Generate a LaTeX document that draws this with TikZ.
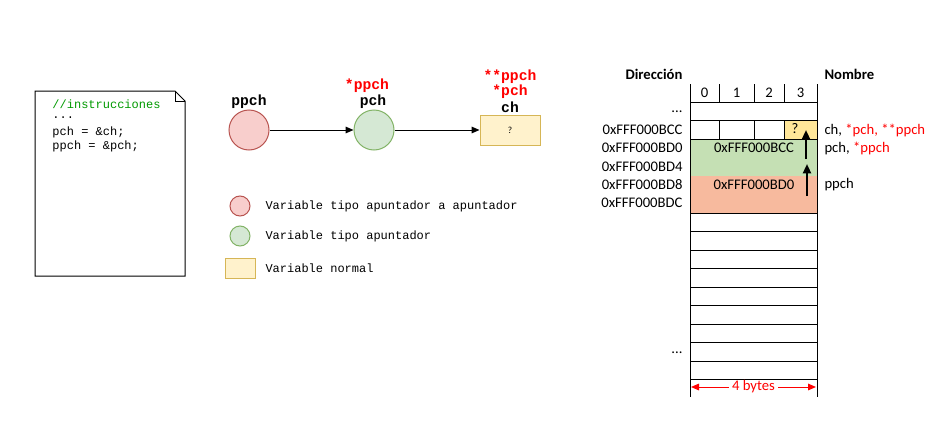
\documentclass[tikz,border=0pt]{standalone}
\usepackage{fontspec}
\setmainfont{Carlito}
\newfontfamily\codefont{Liberation Mono}
\usetikzlibrary{arrows.meta,positioning}

\definecolor{ptrptr}{HTML}{F8CECC}
\definecolor{ptrptrline}{HTML}{B85450}
\definecolor{ptr}{HTML}{D5E8D4}
\definecolor{ptrline}{HTML}{82B366}
\definecolor{normal}{HTML}{FFF2CC}
\definecolor{normalline}{HTML}{D6B656}
\definecolor{memgreen}{HTML}{C5E0B4}
\definecolor{memorange}{HTML}{F7BA9E}
\definecolor{memyellow}{HTML}{FFE699}
\definecolor{comment}{HTML}{009900}

\tikzset{
  code/.style={font=\codefont\fontsize{9}{10}\selectfont, inner sep=0pt, anchor=west},
  varname/.style={font=\codefont\bfseries\fontsize{11}{12}\selectfont, inner sep=0pt},
  memtext/.style={font=\fontsize{11}{13}\selectfont, inner sep=0pt},
  memhead/.style={font=\bfseries\fontsize{11}{13}\selectfont, inner sep=0pt},
  ptrptrvar/.style={circle, draw=ptrptrline, fill=ptrptr, minimum size=#1, inner sep=0pt},
  ptrvar/.style={circle, draw=ptrline, fill=ptr, minimum size=#1, inner sep=0pt},
  normalvar/.style={draw=normalline, fill=normal, inner sep=0pt},
  link/.style={-{Triangle[length=6pt,width=5pt]}, line width=0.75pt},
  memlink/.style={-{Triangle[length=7pt,width=6pt]}, line width=1.6pt}
}

\begin{document}
\begin{tikzpicture}[x=0.75pt, y=-0.75pt, line width=0.75pt]
\useasboundingbox (0,0) rectangle (951,425);

% codigo
\draw (35,91) -- (175,91) -- (185,101) -- (185,276) -- (35,276) -- cycle;
\draw (175,91) -- (175,101) -- (185,101);
\node[code, text=comment] (c1) at (52,104) {//instrucciones};
\node[code] (c2) at (52,118) {...};
\node[code] (c3) at (52,132) {pch = \&ch;};
\node[code] (c4) at (52,146) {ppch = \&pch;};

% variables
\node[ptrptrvar=30pt] (ppch) at (249,130) {};
\node[ptrvar=30pt] (pch) at (374,130) {};
\node[normalvar, minimum width=45pt, minimum height=22.5pt] (ch) at (510,130) {\fontsize{7}{8}\selectfont ?};
\draw[link] (ppch) -- (pch);
\draw[link] (pch) -- (ch);

\node[varname] (ppchname) at (249,102) {ppch};
\node[varname] (pchname) at (373,102) {pch};
\node[varname, text=red] (pchderef) at (367,86) {*ppch};
\node[varname] (chname) at (510,107) {ch};
\node[varname, text=red] (chderef) at (510,92) {*pch};
\node[varname, text=red] (chderef2) at (510,77) {**ppch};

% leyenda
\node[ptrptrvar=15pt] (leg1) at (240,206) {};
\node[ptrvar=15pt] (leg2) at (240,236) {};
\node[normalvar, minimum width=22.5pt, minimum height=15pt] (leg3) at (240,268) {};
\node[code] (leg1text) at (265,206) {Variable tipo apuntador a apuntador};
\node[code] (leg2text) at (265,236) {Variable tipo apuntador};
\node[code] (leg3text) at (265,268) {Variable normal};

% memoria
\fill[memyellow] (784,120.5) rectangle (817,139);
\fill[memgreen] (690,139) rectangle (817,176);
\fill[memorange] (690,176) rectangle (817,213);
\foreach \y in {102,120.5,139,213,231.5,250,268.5,287,305.5,324,342.5,361,379.5}
  \draw (690,\y) -- (817,\y);
\foreach \x in {719,754,784} {
  \draw (\x,84) -- (\x,102);
  \draw (\x,120.5) -- (\x,139);
}
\draw (690,84) -- (690,397);
\draw (817,84) -- (817,397);

\node[memtext] (col0) at (704.5,93) {0};
\node[memtext] (col1) at (736.5,93) {1};
\node[memtext] (col2) at (769,93) {2};
\node[memtext] (col3) at (800.5,93) {3};

\node[memhead] (dir) at (654,74) {Dirección};
\node[memhead, anchor=west] (nom) at (824,74) {Nombre};

\node[memtext, anchor=east] (dots1) at (683,112) {...};
\node[memtext, anchor=east] (a1) at (683,130) {0xFFF000BCC};
\node[memtext, anchor=east] (a2) at (683,148) {0xFFF000BD0};
\node[memtext, anchor=east] (a3) at (683,167) {0xFFF000BD4};
\node[memtext, anchor=east] (a4) at (683,185) {0xFFF000BD8};
\node[memtext, anchor=east] (a5) at (683,203) {0xFFF000BDC};
\node[memtext, anchor=east] (dots2) at (683,353) {...};

\node[memtext] (chval) at (795,129) {?};
\node[memtext] (pchval) at (754,148) {0xFFF000BCC};
\node[memtext] (ppchval) at (754,185) {0xFFF000BD0};

\node[memtext, anchor=west] (n1) at (824,130) {ch, \textcolor{red}{*pch, **ppch}};
\node[memtext, anchor=west] (n2) at (824,148) {pch, \textcolor{red}{*ppch}};
\node[memtext, anchor=west] (n3) at (824,185) {ppch};

\coordinate (ppchsrc) at (807,196);
\coordinate (ppchdst) at (807,164);
\coordinate (pchsrc) at (806,159);
\coordinate (pchdst) at (806,130);
\draw[memlink] (ppchsrc) -- (ppchdst);
\draw[memlink] (pchsrc) -- (pchdst);

\coordinate (bytesl) at (691,387);
\coordinate (bytesr) at (816,387);
\draw[red, {Triangle[length=6pt,width=5pt]}-{Triangle[length=6pt,width=5pt]}] (bytesl) -- (bytesr)
  node[midway, memtext, fill=white, inner xsep=2pt, text=red] (bytes) {4 bytes};
\end{tikzpicture}
\end{document}
